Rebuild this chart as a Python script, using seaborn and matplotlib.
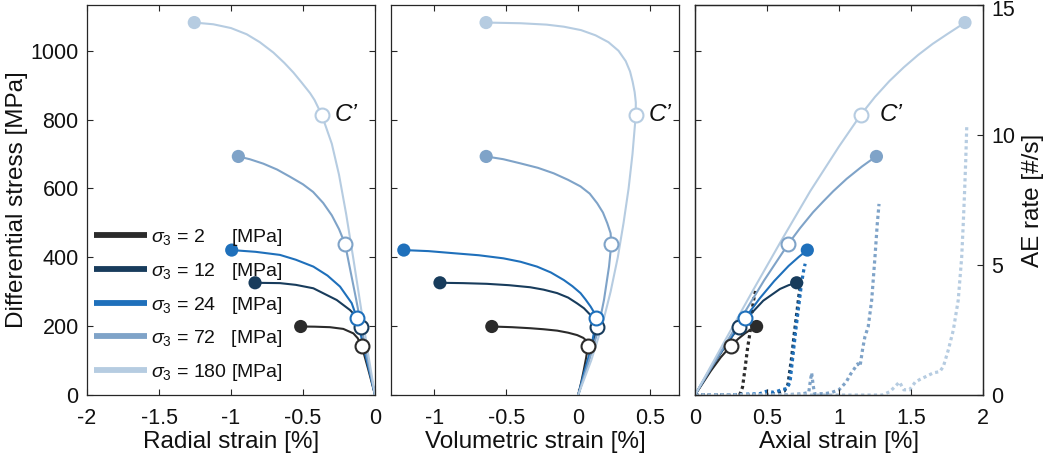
import matplotlib
matplotlib.use("Agg")
import matplotlib.pyplot as plt
import matplotlib.transforms as mtransforms
from matplotlib.lines import Line2D
import seaborn as sns

# ---------------------------------------------------------------- data
sigma3 = [2, 12, 24, 72, 180]
colors = ["#2b2b2b", "#183c5c", "#1f70bb", "#7fa3c8", "#b6cce1"]

# radial strain [%] vs differential stress [MPa]
radial_strain = [
    [0, -0.046, -0.092, -0.12, -0.15, -0.22, -0.313, -0.42, -0.516],
    [0, -0.053, -0.099, -0.13, -0.174, -0.266, -0.428, -0.55, -0.66, -0.833],
    [0, -0.069, -0.125, -0.162, -0.243, -0.33, -0.428, -0.55, -0.66, -0.83, -0.995],
    [0, -0.065, -0.13, -0.175, -0.208, -0.25, -0.30, -0.36, -0.43, -0.50, -0.59,
     -0.68, -0.775, -0.87, -0.949],
    [0, -0.05, -0.10, -0.15, -0.20, -0.25, -0.30, -0.37, -0.42, -0.451, -0.51, -0.567,
     -0.63, -0.706, -0.80, -0.891, -1.0, -1.123, -1.255],
]
radial_stress = [
    [0, 73, 142, 165, 179, 192, 197, 198.5, 199],
    [0, 102, 199, 228, 247, 276, 310, 320, 325, 326],
    [0, 121, 223, 267, 315, 347, 373, 393, 407, 416, 421],
    [0, 131, 276, 370, 439, 482, 522, 558, 590, 612, 634,
     655, 672, 685, 693],
    [0, 125, 260, 395, 525, 640, 730, 814, 857, 877, 908, 937,
     965, 995, 1025, 1048, 1066, 1077, 1082],
]

# volumetric strain [%] vs differential stress [MPa]
volumetric_strain = [
    [0, 0.02, 0.039, 0.055, 0.067, 0.06, 0.051, 0.035, -0.007, -0.07, -0.146,
     -0.24, -0.333, -0.46, -0.60],
    [0, 0.045, 0.09, 0.113, 0.128, 0.115, 0.086, 0.04, -0.007, -0.07, -0.146,
     -0.24, -0.333, -0.48, -0.635, -0.80, -0.96],
    [0, 0.039, 0.086, 0.108, 0.121, 0.11, 0.086, 0.05, 0.016, -0.04, -0.1,
     -0.19, -0.286, -0.40, -0.519, -0.69, -0.867, -1.04, -1.211],
    [0, 0.062, 0.132, 0.179, 0.214, 0.23, 0.225, 0.202, 0.172, 0.132, 0.08, 0.016,
     -0.07, -0.17, -0.28, -0.402, -0.52, -0.639],
    [0, 0.09, 0.165, 0.225, 0.275, 0.315, 0.35, 0.377, 0.40, 0.40, 0.392, 0.378,
     0.36, 0.33, 0.28, 0.21, 0.12, 0.02, -0.10, -0.22, -0.40, -0.64],
]
volumetric_stress = [
    [0, 35, 73, 108, 142, 153, 160, 166, 174, 181, 187, 191, 194, 197, 199],
    [0, 60, 125, 165, 199, 212, 232, 252, 266, 283, 296, 306, 313, 319, 323, 325, 326],
    [0, 63, 131, 178, 223, 240, 257, 278, 296, 316, 334, 356, 373, 387, 397, 406, 412,
     418, 421],
    [0, 82, 179, 276, 373, 439, 470, 499, 530, 557, 585, 606, 625, 644, 660, 673, 685,
     693],
    [0, 100, 200, 300, 400, 500, 600, 700, 814, 850, 880, 910, 940, 970, 1000, 1025,
     1045, 1060, 1070, 1076, 1080, 1082],
]

# axial strain [%] vs differential stress [MPa]
axial_strain = [
    [0, 0.11, 0.18, 0.248, 0.30, 0.347, 0.39, 0.428],
    [0, 0.13, 0.22, 0.308, 0.382, 0.474, 0.59, 0.65, 0.706],
    [0, 0.127, 0.25, 0.347, 0.45, 0.55, 0.65, 0.72, 0.78],
    [0, 0.15, 0.3125, 0.48, 0.648, 0.73, 0.82, 0.89, 0.96, 1.053, 1.16, 1.21, 1.26],
    [0, 0.2, 0.4, 0.6, 0.8, 1.0, 1.151, 1.25, 1.35, 1.45, 1.55, 1.65, 1.75, 1.82, 1.875],
]
axial_stress = [
    [0, 70, 110, 142, 163, 179, 191, 199],
    [0, 90, 148, 199, 233, 274, 308, 319, 326],
    [0, 92, 168, 223, 281, 331, 375, 401, 421],
    [0, 105, 218, 333, 439, 485, 531, 562, 592, 628, 664, 679, 693],
    [0, 152, 302, 449, 592, 722, 814, 866, 912, 952, 988, 1020, 1048, 1067, 1082],
]

# peak (failure) points
peak_stress = [199, 326, 421, 693, 1082]
peak_radial = [-0.516, -0.833, -0.995, -0.949, -1.255]
peak_volumetric = [-0.60, -0.96, -1.211, -0.639, -0.64]
peak_axial = [0.428, 0.706, 0.78, 1.26, 1.875]

# C' (onset of dilatancy) points
cprime_stress = [142, 199, 223, 439, 814]
cprime_radial = [-0.092, -0.099, -0.125, -0.208, -0.37]
cprime_volumetric = [0.067, 0.128, 0.121, 0.23, 0.40]
cprime_axial = [0.248, 0.308, 0.347, 0.648, 1.151]

# acoustic emission rate [#/s] vs axial strain [%]
ae_strain = [
    [0, 0.1, 0.2, 0.31, 0.33, 0.347, 0.365, 0.382, 0.394, 0.405, 0.42],
    [0, 0.2, 0.45, 0.55, 0.62, 0.645, 0.67, 0.69, 0.71, 0.725, 0.735],
    [0, 0.2, 0.45, 0.5, 0.55, 0.6, 0.64, 0.66, 0.68, 0.70, 0.72, 0.74, 0.755, 0.765],
    [0, 0.3, 0.6, 0.75, 0.79, 0.80, 0.81, 0.82, 0.83, 0.9, 0.95, 1.0, 1.05, 1.08, 1.1, 1.13,
     1.146, 1.165, 1.18, 1.203, 1.227, 1.25, 1.266, 1.278],
    [0, 0.5, 1.0, 1.3, 1.354, 1.42, 1.45, 1.49, 1.53, 1.5625, 1.6, 1.655, 1.70, 1.725, 1.76,
     1.794, 1.828, 1.852, 1.863, 1.872, 1.88, 1.887],
]
ae_rate = [
    [0, 0, 0, 0, 0.3, 1.0, 1.8, 2.4, 3.1, 3.6, 4.0],
    [0, 0, 0, 0.05, 0.15, 0.4, 1.4, 2.4, 3.3, 4.0, 4.3],
    [0, 0, 0.05, 0.15, 0.1, 0.2, 0.25, 0.5, 1.5, 2.5, 3.4, 4.3, 4.8, 5.05],
    [0, 0, 0, 0.05, 0.1, 0.5, 0.85, 0.4, 0.05, 0.05, 0.1, 0.2, 0.5, 0.8, 0.96, 1.2,
     1.1, 1.8, 2.24, 2.63, 3.65, 5.32, 6.6, 7.35],
    [0, 0, 0, 0, 0.13, 0.5, 0.2, 0.2, 0.5, 0.6, 0.7, 0.85, 0.9, 1.1, 1.75,
     2.5, 3.65, 5.3, 6.6, 7.8, 9.0, 10.3],
]

# axis ticks
stress_ticks = [0, 200, 400, 600, 800, 1000]
radial_ticks = [-2, -1.5, -1, -0.5, 0]
radial_labels = ["-2", "-1.5", "-1", "-0.5", "0"]
vol_ticks = [-1, -0.5, 0, 0.5]
vol_labels = ["-1", "-0.5", "0", "0.5"]
axial_ticks = [0, 0.5, 1, 1.5, 2]
axial_labels = ["0", "0.5", "1", "1.5", "2"]
ae_ticks = [0, 5, 10, 15]
ae_labels = ["0", "5", "10", "15"]

legend_labels = [
    r"$\sigma_3$ = 2     [MPa]",
    r"$\sigma_3$ = 12   [MPa]",
    r"$\sigma_3$ = 24   [MPa]",
    r"$\sigma_3$ = 72   [MPa]",
    r"$\sigma_3$ = 180 [MPa]",
]

# ---------------------------------------------------------------- style
sns.set_theme(style="ticks")
plt.rcParams.update({
    "font.family": ["Liberation Sans", "DejaVu Sans"],
    "mathtext.fontset": "custom",
    "mathtext.rm": "Liberation Sans",
    "mathtext.it": "Liberation Sans:italic",
    "mathtext.default": "it",
    "axes.unicode_minus": False,
    "axes.edgecolor": "#262626",
    "axes.linewidth": 0.9,
    "xtick.color": "#262626",
    "ytick.color": "#262626",
    "text.color": "#111111",
    "axes.labelcolor": "#111111",
})

W, H = 1051, 466
fig = plt.figure(figsize=(W / 100, H / 100), dpi=100)


def frame(left, right, top, bottom):
    return [left / W, 1 - bottom / H, (right - left) / W, (bottom - top) / H]


ax1 = fig.add_axes(frame(87, 375, 5, 395))
ax2 = fig.add_axes(frame(391, 679, 5, 395))
ax3 = fig.add_axes(frame(695, 983, 5, 395))
ax3t = ax3.twinx()

TICK = dict(direction="in", length=4.5, width=0.8, labelsize=15.5,
            colors="#262626", labelcolor="#111111")
LABEL_SIZE = 17.5

# ---------------------------------------------------------------- AE rate
for i in range(len(sigma3)):
    sns.lineplot(x=ae_strain[i], y=ae_rate[i], ax=ax3t, color=colors[i],
                 linewidth=2.3, linestyle=(0, (1.0, 1.0)), sort=False,
                 estimator=None, legend=False)
ax3t.set_ylim(0, 15)
ax3t.set_yticks(ae_ticks)
ax3t.set_yticklabels(ae_labels)
ax3t.tick_params(axis="y", pad=6, **TICK)
ax3t.set_ylabel("AE rate [#/s]", fontsize=LABEL_SIZE, labelpad=5)
ax3.set_zorder(ax3t.get_zorder() + 1)
ax3.patch.set_visible(False)
# nudge the top AE label down so it stays inside the figure
top_label = ax3t.yaxis.get_major_ticks()[-1].label2
top_label.set_transform(top_label.get_transform() +
                        mtransforms.ScaledTranslation(0, -2.5 / 72, fig.dpi_scale_trans))

# ---------------------------------------------------------------- stress curves
panels = [
    (ax1, radial_strain, radial_stress, peak_radial, cprime_radial),
    (ax2, volumetric_strain, volumetric_stress, peak_volumetric, cprime_volumetric),
    (ax3, axial_strain, axial_stress, peak_axial, cprime_axial),
]
for ax, xs, ys, px, cx in panels:
    for i in range(len(sigma3)):
        sns.lineplot(x=xs[i], y=ys[i], ax=ax, color=colors[i], linewidth=1.5,
                     sort=False, estimator=None, legend=False, zorder=2)
    for i in range(len(sigma3)):
        sns.scatterplot(x=[px[i]], y=[peak_stress[i]], ax=ax, color=colors[i],
                        s=90, edgecolor="none", legend=False, zorder=4)
        sns.scatterplot(x=[cx[i]], y=[cprime_stress[i]], ax=ax, color="white",
                        edgecolor=colors[i], linewidth=1.5, s=100, legend=False,
                        zorder=5)
    ax.set_ylim(0, 1133)
    ax.set_yticks(stress_ticks)
    ax.tick_params(axis="both", top=True, right=(ax is not ax3), **TICK)
    ax.tick_params(axis="x", pad=9)
    ax.tick_params(axis="y", pad=6)
    for sp in ax.spines.values():
        sp.set_visible(True)

ax1.set_xlim(-2, 0)
ax1.set_xticks(radial_ticks)
ax1.set_xticklabels(radial_labels)
ax2.set_xlim(-1.3, 0.7)
ax2.set_xticks(vol_ticks)
ax2.set_xticklabels(vol_labels)
ax3.set_xlim(0, 2)
ax3.set_xticks(axial_ticks)
ax3.set_xticklabels(axial_labels)
ax2.set_yticklabels([])
ax3.set_yticklabels([])

ax1.set_ylabel("Differential stress [MPa]", fontsize=LABEL_SIZE, labelpad=2)
ax1.set_xlabel("Radial strain [%]", fontsize=LABEL_SIZE, labelpad=2)
ax2.set_xlabel("Volumetric strain [%]", fontsize=LABEL_SIZE, labelpad=2)
ax3.set_xlabel("Axial strain [%]", fontsize=LABEL_SIZE, labelpad=2)
ax2.set_ylabel("")
ax3.set_ylabel("")

# C' annotations
for ax, x in [(ax1, -0.28), (ax2, 0.49), (ax3, 1.28)]:
    ax.text(x, 816, "C\u2019", fontsize=17.5, style="italic", ha="left",
            va="center", color="#111111", zorder=6)

# legend
handles = [Line2D([], [], color=c, linewidth=4.2, solid_capstyle="butt")
           for c in colors]
ax1.legend(handles, legend_labels, loc="upper left",
           bbox_to_anchor=(0.024, 0.43), frameon=False, fontsize=14,
           handlelength=2.75, handletextpad=0.2, labelspacing=0.65,
           borderaxespad=0, borderpad=0)

fig.savefig("out.png", dpi=100)
